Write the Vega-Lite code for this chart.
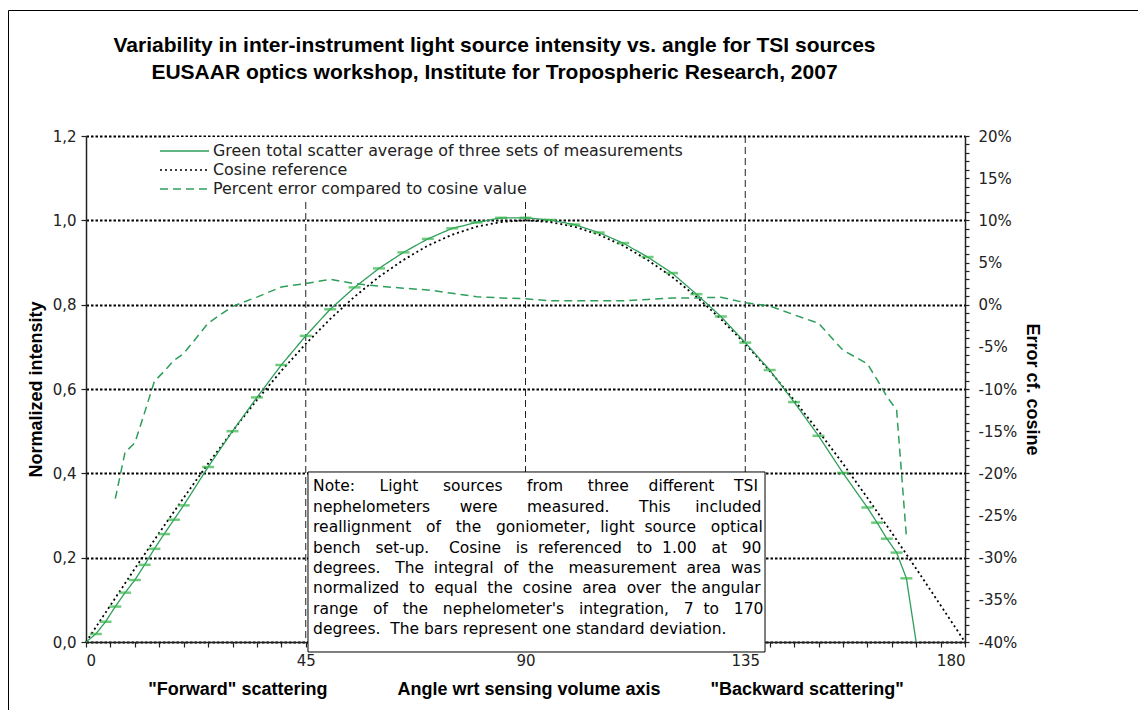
{
  "$schema": "https://vega.github.io/schema/vega-lite/v6.json",
  "width": 879,
  "height": 506,
  "autosize": {"type": "none"},
  "padding": {"left": 86, "top": 136, "right": 173, "bottom": 68},
  "background": "white",
  "title": {
    "text": ["Variability in inter-instrument light source intensity vs. angle for TSI sources", "EUSAAR optics workshop, Institute for Tropospheric Research, 2007"],
    "font": "Liberation Sans",
    "fontSize": 21,
    "fontWeight": "bold",
    "color": "black",
    "anchor": "middle",
    "dx": -31,
    "offset": -73,
    "lineHeight": 27
  },
  "datasets": {
    "measured": [
      {"angle": 0, "value": 0.0},
      {"angle": 2, "value": 0.019},
      {"angle": 4, "value": 0.048},
      {"angle": 6, "value": 0.084},
      {"angle": 8, "value": 0.117},
      {"angle": 10, "value": 0.147},
      {"angle": 12, "value": 0.183},
      {"angle": 14, "value": 0.221},
      {"angle": 16, "value": 0.256},
      {"angle": 18, "value": 0.290},
      {"angle": 20, "value": 0.324},
      {"angle": 25, "value": 0.415},
      {"angle": 30, "value": 0.500},
      {"angle": 35, "value": 0.580},
      {"angle": 40, "value": 0.657},
      {"angle": 45, "value": 0.726},
      {"angle": 50, "value": 0.789},
      {"angle": 55, "value": 0.841},
      {"angle": 60, "value": 0.886},
      {"angle": 65, "value": 0.924},
      {"angle": 70, "value": 0.956},
      {"angle": 75, "value": 0.981},
      {"angle": 80, "value": 0.995},
      {"angle": 85, "value": 1.006},
      {"angle": 90, "value": 1.006},
      {"angle": 95, "value": 1.001},
      {"angle": 100, "value": 0.990},
      {"angle": 105, "value": 0.971},
      {"angle": 110, "value": 0.946},
      {"angle": 115, "value": 0.913},
      {"angle": 120, "value": 0.875},
      {"angle": 125, "value": 0.825},
      {"angle": 130, "value": 0.772},
      {"angle": 135, "value": 0.710},
      {"angle": 140, "value": 0.645},
      {"angle": 145, "value": 0.569},
      {"angle": 150, "value": 0.489},
      {"angle": 155, "value": 0.401},
      {"angle": 160, "value": 0.319},
      {"angle": 162, "value": 0.283},
      {"angle": 164, "value": 0.245},
      {"angle": 166, "value": 0.212},
      {"angle": 168, "value": 0.151},
      {"angle": 170, "value": 0.0}
    ],
    "cosine": [
      {"angle": 0, "value": 0.0},
      {"angle": 5, "value": 0.087},
      {"angle": 10, "value": 0.174},
      {"angle": 15, "value": 0.259},
      {"angle": 20, "value": 0.342},
      {"angle": 25, "value": 0.423},
      {"angle": 30, "value": 0.5},
      {"angle": 35, "value": 0.574},
      {"angle": 40, "value": 0.643},
      {"angle": 45, "value": 0.707},
      {"angle": 50, "value": 0.766},
      {"angle": 55, "value": 0.819},
      {"angle": 60, "value": 0.866},
      {"angle": 65, "value": 0.906},
      {"angle": 70, "value": 0.94},
      {"angle": 75, "value": 0.966},
      {"angle": 80, "value": 0.985},
      {"angle": 85, "value": 0.996},
      {"angle": 90, "value": 1.0},
      {"angle": 95, "value": 0.996},
      {"angle": 100, "value": 0.985},
      {"angle": 105, "value": 0.966},
      {"angle": 110, "value": 0.94},
      {"angle": 115, "value": 0.906},
      {"angle": 120, "value": 0.866},
      {"angle": 125, "value": 0.819},
      {"angle": 130, "value": 0.766},
      {"angle": 135, "value": 0.707},
      {"angle": 140, "value": 0.643},
      {"angle": 145, "value": 0.574},
      {"angle": 150, "value": 0.5},
      {"angle": 155, "value": 0.423},
      {"angle": 160, "value": 0.342},
      {"angle": 165, "value": 0.259},
      {"angle": 170, "value": 0.174},
      {"angle": 175, "value": 0.087},
      {"angle": 180, "value": 0.0}
    ],
    "error": [
      {"angle": 6, "pct": -23.0},
      {"angle": 8, "pct": -17.5},
      {"angle": 10, "pct": -16.4},
      {"angle": 12, "pct": -12.8},
      {"angle": 14, "pct": -9.1},
      {"angle": 16, "pct": -7.9},
      {"angle": 18, "pct": -6.6},
      {"angle": 20, "pct": -5.8},
      {"angle": 25, "pct": -2.2},
      {"angle": 30, "pct": -0.2},
      {"angle": 35, "pct": 0.9},
      {"angle": 40, "pct": 2.1},
      {"angle": 45, "pct": 2.5},
      {"angle": 50, "pct": 3.0},
      {"angle": 55, "pct": 2.5},
      {"angle": 60, "pct": 2.2},
      {"angle": 65, "pct": 1.95},
      {"angle": 70, "pct": 1.75},
      {"angle": 75, "pct": 1.35},
      {"angle": 80, "pct": 0.95},
      {"angle": 85, "pct": 0.8},
      {"angle": 90, "pct": 0.7},
      {"angle": 95, "pct": 0.47},
      {"angle": 100, "pct": 0.47},
      {"angle": 105, "pct": 0.47},
      {"angle": 110, "pct": 0.47},
      {"angle": 115, "pct": 0.62},
      {"angle": 120, "pct": 0.78},
      {"angle": 125, "pct": 0.8},
      {"angle": 130, "pct": 0.88},
      {"angle": 135, "pct": 0.24},
      {"angle": 140, "pct": -0.15},
      {"angle": 145, "pct": -1.2},
      {"angle": 150, "pct": -2.2},
      {"angle": 155, "pct": -5.4},
      {"angle": 160, "pct": -7.0},
      {"angle": 162, "pct": -8.9},
      {"angle": 164, "pct": -10.9},
      {"angle": 166, "pct": -12.5},
      {"angle": 168, "pct": -27.5}
    ],
    "guides": [
      {"angle": 45},
      {"angle": 90},
      {"angle": 135}
    ]
  },
  "layer": [
    {
      "layer": [
        {
          "data": {"values": [{}]},
          "mark": {"type": "rect", "fill": "transparent", "stroke": "black", "strokeWidth": 1},
          "encoding": {
            "x": {"datum": -15.87, "type": "quantitative", "scale": {"domain": [0, 180], "nice": false},
              "axis": {"values": [0, 5, 10, 15, 20, 25, 30, 35, 40, 45, 50, 55, 60, 65, 70, 75, 80, 85, 90, 95, 100, 105, 110, 115, 120, 125, 130, 135, 140, 145, 150, 155, 160, 165, 170, 175, 180], "labelExpr": "datum.value % 45 === 0 ? '' + datum.value : ''", "labelOverlap": false, "grid": false, "tickSize": 5, "labelPadding": 6, "title": "\"Forward\" scattering\u00a0\u00a0\u00a0\u00a0\u00a0\u00a0\u00a0\u00a0\u00a0\u00a0\u00a0\u00a0\u00a0\u00a0Angle wrt sensing volume axis\u00a0\u00a0\u00a0\u00a0\u00a0\u00a0\u00a0\u00a0\u00a0\u00a0\"Backward scattering\"", "titlePadding": 12}},
            "x2": {"datum": 260},
            "y": {"datum": 1.4976, "type": "quantitative", "scale": {"domain": [0, 1.2], "nice": false}},
            "y2": {"datum": -0.5}
          }
        },
        {
          "data": {"name": "cosine"},
          "mark": {"type": "line", "strokeWidth": 1.8, "interpolate": "linear"},
          "encoding": {
            "x": {
              "field": "angle", "type": "quantitative",
              "axis": {"values": [0, 5, 10, 15, 20, 25, 30, 35, 40, 45, 50, 55, 60, 65, 70, 75, 80, 85, 90, 95, 100, 105, 110, 115, 120, 125, 130, 135, 140, 145, 150, 155, 160, 165, 170, 175, 180], "labelExpr": "datum.value % 45 === 0 ? '' + datum.value : ''", "labelOverlap": false, "grid": false, "tickSize": 5, "labelPadding": 6, "title": "\"Forward\" scattering\u00a0\u00a0\u00a0\u00a0\u00a0\u00a0\u00a0\u00a0\u00a0\u00a0\u00a0\u00a0\u00a0\u00a0Angle wrt sensing volume axis\u00a0\u00a0\u00a0\u00a0\u00a0\u00a0\u00a0\u00a0\u00a0\u00a0\"Backward scattering\"", "titlePadding": 12}
            },
            "y": {
              "field": "value", "type": "quantitative",
              "axis": {
                "values": [0, 0.2, 0.4, 0.6, 0.8, 1.0, 1.2],
                "labelExpr": "replace(format(datum.value, '.1f'), '.', ',')",
                "grid": true,
                "gridColor": "black",
                "gridDash": [2.5, 2],
                "gridWidth": 2,
                "tickSize": 5,
                "labelPadding": 5,
                "title": "Normalized intensity",
                "titlePadding": 7,
                "orient": "left"
              }
            },
            "color": {
              "datum": "Cosine reference",
              "scale": {
                "domain": ["Green total scatter average of three sets of measurements", "Cosine reference", "Percent error compared to cosine value"],
                "range": ["#2e9e5b", "#000000", "#2e9e5b"]
              },
              "legend": {"title": null}
            },
            "strokeDash": {
              "datum": "Cosine reference",
              "scale": {
                "domain": ["Green total scatter average of three sets of measurements", "Cosine reference", "Percent error compared to cosine value"],
                "range": [[1, 0], [2, 3], [8, 5]]
              },
              "legend": {"title": null}
            }
          }
        },
        {
          "data": {"name": "guides"},
          "mark": {"type": "rule", "color": "#222222", "strokeWidth": 1, "strokeDash": [7, 4]},
          "encoding": {
            "x": {"field": "angle", "type": "quantitative",
              "axis": {"values": [0, 5, 10, 15, 20, 25, 30, 35, 40, 45, 50, 55, 60, 65, 70, 75, 80, 85, 90, 95, 100, 105, 110, 115, 120, 125, 130, 135, 140, 145, 150, 155, 160, 165, 170, 175, 180], "labelExpr": "datum.value % 45 === 0 ? '' + datum.value : ''", "labelOverlap": false, "grid": false, "tickSize": 5, "labelPadding": 6, "title": "\"Forward\" scattering\u00a0\u00a0\u00a0\u00a0\u00a0\u00a0\u00a0\u00a0\u00a0\u00a0\u00a0\u00a0\u00a0\u00a0Angle wrt sensing volume axis\u00a0\u00a0\u00a0\u00a0\u00a0\u00a0\u00a0\u00a0\u00a0\u00a0\"Backward scattering\"", "titlePadding": 12}}
          }
        },
        {
          "data": {"name": "measured"},
          "mark": {"type": "line", "strokeWidth": 1.3},
          "encoding": {
            "x": {"field": "angle", "type": "quantitative",
              "axis": {"values": [0, 5, 10, 15, 20, 25, 30, 35, 40, 45, 50, 55, 60, 65, 70, 75, 80, 85, 90, 95, 100, 105, 110, 115, 120, 125, 130, 135, 140, 145, 150, 155, 160, 165, 170, 175, 180], "labelExpr": "datum.value % 45 === 0 ? '' + datum.value : ''", "labelOverlap": false, "grid": false, "tickSize": 5, "labelPadding": 6, "title": "\"Forward\" scattering\u00a0\u00a0\u00a0\u00a0\u00a0\u00a0\u00a0\u00a0\u00a0\u00a0\u00a0\u00a0\u00a0\u00a0Angle wrt sensing volume axis\u00a0\u00a0\u00a0\u00a0\u00a0\u00a0\u00a0\u00a0\u00a0\u00a0\"Backward scattering\"", "titlePadding": 12}},
            "y": {"field": "value", "type": "quantitative"},
            "color": {
              "datum": "Green total scatter average of three sets of measurements",
              "scale": {
                "domain": ["Green total scatter average of three sets of measurements", "Cosine reference", "Percent error compared to cosine value"],
                "range": ["#2e9e5b", "#000000", "#2e9e5b"]
              },
              "legend": {"title": null}
            },
            "strokeDash": {
              "datum": "Green total scatter average of three sets of measurements",
              "scale": {
                "domain": ["Green total scatter average of three sets of measurements", "Cosine reference", "Percent error compared to cosine value"],
                "range": [[1, 0], [2, 3], [8, 5]]
              },
              "legend": {"title": null}
            }
          }
        },
        {
          "data": {"name": "measured"},
          "transform": [{"filter": "datum.angle > 0 && datum.angle < 170"}],
          "mark": {"type": "tick", "orient": "horizontal", "size": 12, "thickness": 2.5, "color": "#33b54a"},
          "encoding": {
            "x": {"field": "angle", "type": "quantitative",
              "axis": {"values": [0, 5, 10, 15, 20, 25, 30, 35, 40, 45, 50, 55, 60, 65, 70, 75, 80, 85, 90, 95, 100, 105, 110, 115, 120, 125, 130, 135, 140, 145, 150, 155, 160, 165, 170, 175, 180], "labelExpr": "datum.value % 45 === 0 ? '' + datum.value : ''", "labelOverlap": false, "grid": false, "tickSize": 5, "labelPadding": 6, "title": "\"Forward\" scattering\u00a0\u00a0\u00a0\u00a0\u00a0\u00a0\u00a0\u00a0\u00a0\u00a0\u00a0\u00a0\u00a0\u00a0Angle wrt sensing volume axis\u00a0\u00a0\u00a0\u00a0\u00a0\u00a0\u00a0\u00a0\u00a0\u00a0\"Backward scattering\"", "titlePadding": 12}},
            "y": {"field": "value", "type": "quantitative"}
          }
        },
        {
          "data": {"values": [{}]},
          "mark": {"type": "rect", "fill": "white", "stroke": "black", "strokeWidth": 1},
          "encoding": {
            "x": {"datum": 45.46, "type": "quantitative",
              "axis": {"values": [0, 5, 10, 15, 20, 25, 30, 35, 40, 45, 50, 55, 60, 65, 70, 75, 80, 85, 90, 95, 100, 105, 110, 115, 120, 125, 130, 135, 140, 145, 150, 155, 160, 165, 170, 175, 180], "labelExpr": "datum.value % 45 === 0 ? '' + datum.value : ''", "labelOverlap": false, "grid": false, "tickSize": 5, "labelPadding": 6, "title": "\"Forward\" scattering\u00a0\u00a0\u00a0\u00a0\u00a0\u00a0\u00a0\u00a0\u00a0\u00a0\u00a0\u00a0\u00a0\u00a0Angle wrt sensing volume axis\u00a0\u00a0\u00a0\u00a0\u00a0\u00a0\u00a0\u00a0\u00a0\u00a0\"Backward scattering\"", "titlePadding": 12}},
            "x2": {"datum": 139.05},
            "y": {"datum": 0.4032, "type": "quantitative"},
            "y2": {"datum": -0.0237}
          }
        },
        {
          "data": {"values": [{}]},
          "mark": {"type": "text", "align": "left", "baseline": "top", "font": "DejaVu Sans", "fontSize": 15.5, "lineHeight": 20.45, "color": "black"},
          "encoding": {
            "x": {"datum": 46.5, "type": "quantitative",
              "axis": {"values": [0, 5, 10, 15, 20, 25, 30, 35, 40, 45, 50, 55, 60, 65, 70, 75, 80, 85, 90, 95, 100, 105, 110, 115, 120, 125, 130, 135, 140, 145, 150, 155, 160, 165, 170, 175, 180], "labelExpr": "datum.value % 45 === 0 ? '' + datum.value : ''", "labelOverlap": false, "grid": false, "tickSize": 5, "labelPadding": 6, "title": "\"Forward\" scattering\u00a0\u00a0\u00a0\u00a0\u00a0\u00a0\u00a0\u00a0\u00a0\u00a0\u00a0\u00a0\u00a0\u00a0Angle wrt sensing volume axis\u00a0\u00a0\u00a0\u00a0\u00a0\u00a0\u00a0\u00a0\u00a0\u00a0\"Backward scattering\"", "titlePadding": 12}},
            "y": {"datum": 0.386, "type": "quantitative"},
            "text": {"value": [
              "Note:\u00a0\u00a0\u00a0\u00a0\u00a0Light\u00a0\u00a0\u00a0\u00a0\u00a0sources\u00a0\u00a0\u00a0\u00a0\u00a0from\u00a0\u00a0\u00a0\u00a0\u00a0three\u00a0\u00a0\u00a0\u00a0different\u00a0\u00a0\u00a0\u00a0TSI",
              "nephelometers\u00a0\u00a0\u00a0\u00a0\u00a0\u00a0were\u00a0\u00a0\u00a0\u00a0\u00a0\u00a0measured.\u00a0\u00a0\u00a0\u00a0\u00a0\u00a0This\u00a0\u00a0\u00a0\u00a0\u00a0included",
              "reallignment\u00a0\u00a0\u00a0of\u00a0\u00a0\u00a0the\u00a0\u00a0\u00a0goniometer,\u00a0\u00a0light\u00a0\u00a0source\u00a0\u00a0\u00a0optical",
              "bench\u00a0\u00a0\u00a0set-up.\u00a0\u00a0\u00a0\u00a0Cosine\u00a0\u00a0\u00a0is\u00a0\u00a0referenced\u00a0\u00a0\u00a0to\u00a0\u00a01.00\u00a0\u00a0\u00a0at\u00a0\u00a0\u00a090",
              "degrees.\u00a0\u00a0\u00a0The\u00a0\u00a0integral\u00a0\u00a0of\u00a0\u00a0the\u00a0\u00a0\u00a0measurement\u00a0\u00a0area\u00a0\u00a0was",
              "normalized\u00a0\u00a0to\u00a0\u00a0equal\u00a0\u00a0the\u00a0\u00a0cosine\u00a0\u00a0area\u00a0\u00a0over\u00a0\u00a0the\u00a0angular",
              "range\u00a0\u00a0\u00a0of\u00a0\u00a0\u00a0the\u00a0\u00a0\u00a0nephelometer's\u00a0\u00a0\u00a0integration,\u00a0\u00a0\u00a07\u00a0\u00a0to\u00a0\u00a0\u00a0170",
              "degrees.\u00a0\u00a0The\u00a0bars\u00a0represent\u00a0one\u00a0standard\u00a0deviation."
            ]}
          }
        }
      ]
    },
    {
      "layer": [
        {
          "data": {"name": "error"},
          "mark": {"type": "line", "strokeWidth": 1.5},
          "encoding": {
            "x": {"field": "angle", "type": "quantitative",
              "axis": {"values": [0, 5, 10, 15, 20, 25, 30, 35, 40, 45, 50, 55, 60, 65, 70, 75, 80, 85, 90, 95, 100, 105, 110, 115, 120, 125, 130, 135, 140, 145, 150, 155, 160, 165, 170, 175, 180], "labelExpr": "datum.value % 45 === 0 ? '' + datum.value : ''", "labelOverlap": false, "grid": false, "tickSize": 5, "labelPadding": 6, "title": "\"Forward\" scattering\u00a0\u00a0\u00a0\u00a0\u00a0\u00a0\u00a0\u00a0\u00a0\u00a0\u00a0\u00a0\u00a0\u00a0Angle wrt sensing volume axis\u00a0\u00a0\u00a0\u00a0\u00a0\u00a0\u00a0\u00a0\u00a0\u00a0\"Backward scattering\"", "titlePadding": 12}},
            "y": {
              "field": "pct", "type": "quantitative",
              "scale": {"domain": [-40, 20], "nice": false},
              "axis": {
                "orient": "right",
                "values": [-40, -39, -38, -37, -36, -35, -34, -33, -32, -31, -30, -29, -28, -27, -26, -25, -24, -23, -22, -21, -20, -19, -18, -17, -16, -15, -14, -13, -12, -11, -10, -9, -8, -7, -6, -5, -4, -3, -2, -1, 0, 1, 2, 3, 4, 5, 6, 7, 8, 9, 10, 11, 12, 13, 14, 15, 16, 17, 18, 19, 20],
                "labelExpr": "datum.value % 5 === 0 ? datum.value + '%' : ''",
                "labelOverlap": false,
                "grid": false,
                "tickSize": 4,
                "labelPadding": 9,
                "title": "Error cf. cosine",
                "titleAngle": 90,
                "titlePadding": 6
              }
            },
            "color": {
              "datum": "Percent error compared to cosine value",
              "scale": {
                "domain": ["Green total scatter average of three sets of measurements", "Cosine reference", "Percent error compared to cosine value"],
                "range": ["#2e9e5b", "#000000", "#2e9e5b"]
              },
              "legend": {"title": null}
            },
            "strokeDash": {
              "datum": "Percent error compared to cosine value",
              "scale": {
                "domain": ["Green total scatter average of three sets of measurements", "Cosine reference", "Percent error compared to cosine value"],
                "range": [[1, 0], [2, 3], [8, 5]]
              },
              "legend": {"title": null}
            }
          }
        }
      ]
    }
  ],
  "resolve": {"scale": {"y": "independent"}},
  "config": {
    "view": {"stroke": null},
    "axis": {
      "labelFont": "DejaVu Sans",
      "labelFontSize": 15,
      "labelColor": "#222222",
      "domainColor": "#222222",
      "domainWidth": 1.5,
      "tickColor": "#222222",
      "tickWidth": 1.2,
      "titleFont": "Liberation Sans",
      "titleFontSize": 18,
      "titleFontWeight": "bold",
      "titleColor": "black"
    },
    "legend": {
      "orient": "none",
      "legendX": 84.5,
      "legendY": 1,
      "padding": 3,
      "fillColor": "white",
      "labelFont": "DejaVu Sans",
      "labelFontSize": 15.9,
      "labelColor": "#222222",
      "labelLimit": 600,
      "symbolType": "M-2.45,0H2.45",
      "symbolSize": 400,
      "symbolStrokeWidth": 1.6,
      "rowPadding": 0,
      "labelOffset": 17.5
    }
  }
}
